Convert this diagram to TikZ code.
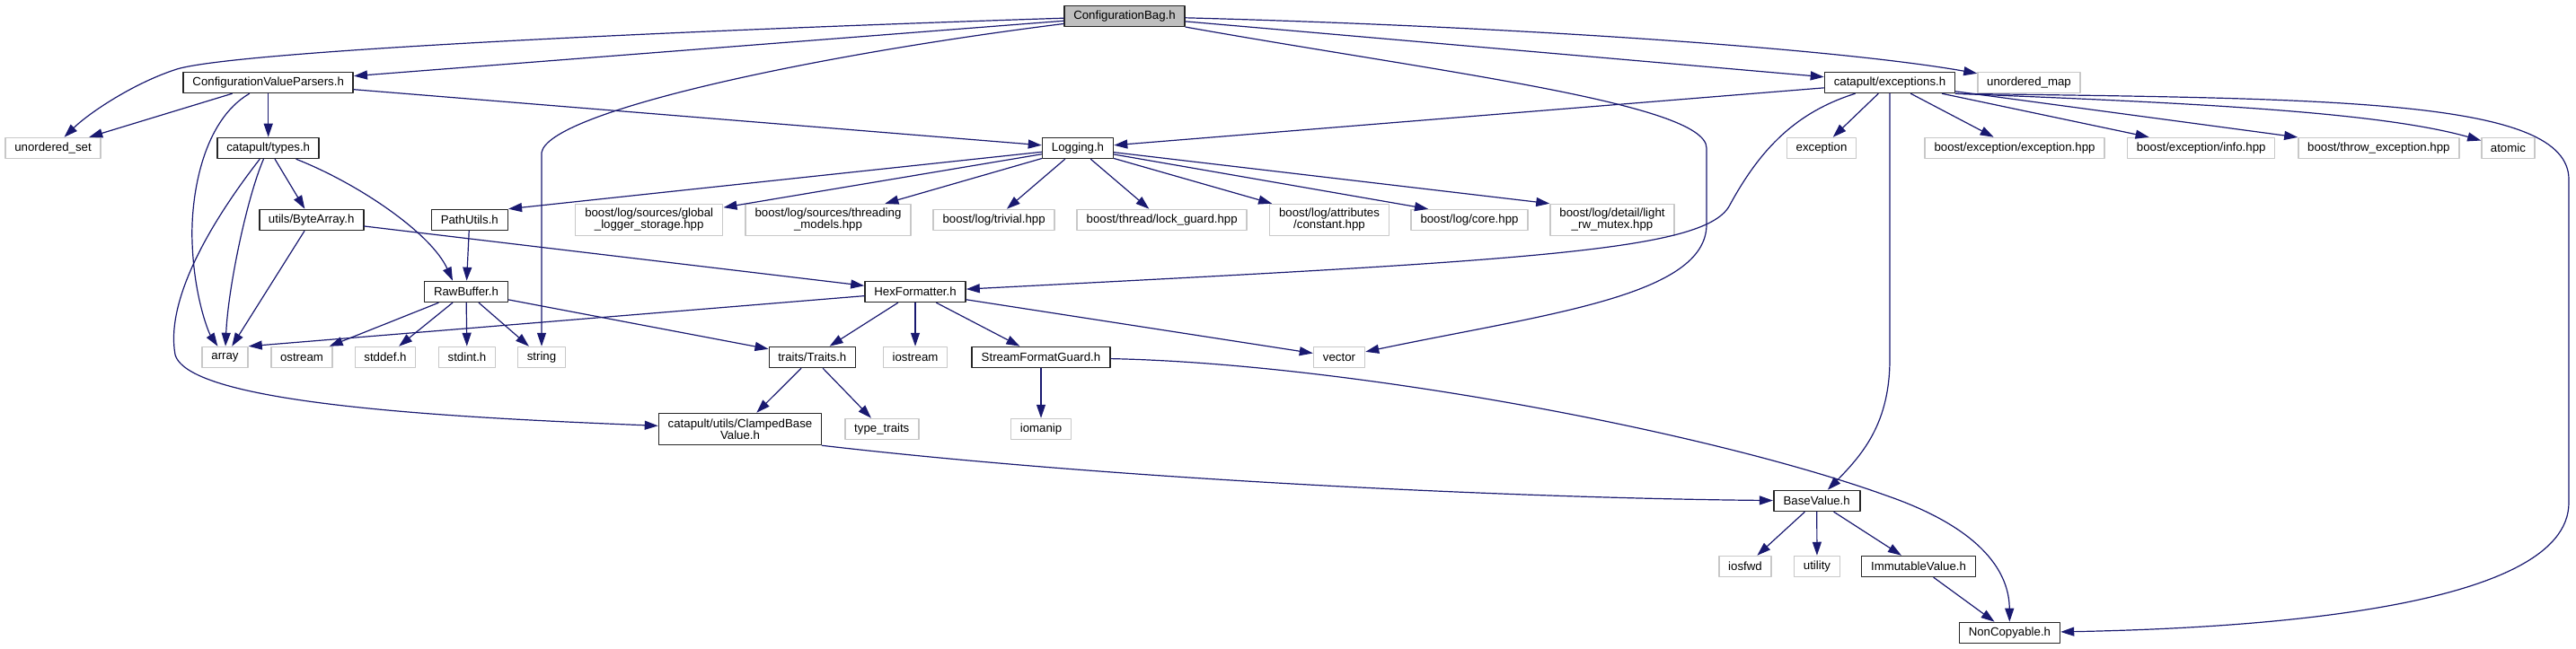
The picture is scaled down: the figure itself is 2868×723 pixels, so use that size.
\documentclass[tikz,border=0pt]{standalone}
\usepackage{fontspec}
\setmainfont{Liberation Sans}
\usetikzlibrary{arrows.meta}
\definecolor{edgeblue}{HTML}{191970}
\definecolor{sysgray}{HTML}{C8C8C8}
\definecolor{rootfill}{HTML}{BFBFBF}
\tikzset{
  every node/.style={font=\fontsize{13.25pt}{13pt}\selectfont, inner sep=0pt,
    minimum height=23pt, align=center},
  localbox/.style={draw=black!85, line width=1.6pt, fill=white},
  sysbox/.style={draw=sysgray, line width=1.5pt, fill=white},
  rootbox/.style={draw=black!85, line width=1.6pt, fill=rootfill},
  tall/.style={minimum height=35pt},
  incl/.style={draw=edgeblue, line width=1.2pt, -{Triangle[length=15pt,width=10pt]}}
}
\begin{document}
\begin{tikzpicture}[x=1pt,y=-1pt,line cap=round,line join=round]
  \useasboundingbox (0,0) rectangle (2868,723);
  % row 0
  \node[rootbox, minimum width=134pt] (cb) at (1252,18) {ConfigurationBag.h};
  % row 1
  \node[localbox, minimum width=189pt] (cvp) at (298.7,92) {ConfigurationValueParsers.h};
  \node[localbox, minimum width=145pt] (cex) at (2104,92) {catapult/exceptions.h};
  \node[sysbox, minimum width=114pt] (umap) at (2259,92) {unordered\_map};
  % row 2
  \node[sysbox, minimum width=106pt] (uset) at (59,165) {unordered\_set};
  \node[localbox, minimum width=113pt] (types) at (298.7,165) {catapult/types.h};
  \node[localbox, minimum width=79pt] (logging) at (1200,165) {Logging.h};
  \node[sysbox, minimum width=77pt] (exception) at (2028,165) {exception};
  \node[sysbox, minimum width=200pt] (bexc) at (2243,165) {boost/exception/exception.hpp};
  \node[sysbox, minimum width=164pt] (binfo) at (2450.7,165) {boost/exception/info.hpp};
  \node[sysbox, minimum width=179pt] (bthrow) at (2648.4,165) {boost/throw\_exception.hpp};
  \node[sysbox, minimum width=59pt] (atomic) at (2792.4,165) {atomic};
  % row 3
  \node[localbox, minimum width=116pt] (bytearr) at (346.7,245) {utils/ByteArray.h};
  \node[localbox, minimum width=85pt] (pathutils) at (522.8,245) {PathUtils.h};
  \node[sysbox, tall, minimum width=164pt] (glstorage) at (722.7,245) {boost/log/sources/global\\\_logger\_storage.hpp};
  \node[sysbox, tall, minimum width=184pt] (thmodels) at (922,245) {boost/log/sources/threading\\\_models.hpp};
  \node[sysbox, minimum width=135pt] (trivial) at (1106.6,245) {boost/log/trivial.hpp};
  \node[sysbox, minimum width=189pt] (lockguard) at (1293.7,245) {boost/thread/lock\_guard.hpp};
  \node[sysbox, tall, minimum width=133pt] (constant) at (1480,245) {boost/log/attributes\\/constant.hpp};
  \node[sysbox, minimum width=130pt] (core) at (1636,245) {boost/log/core.hpp};
  \node[sysbox, tall, minimum width=138pt] (rwmutex) at (1795,245) {boost/log/detail/light\\\_rw\_mutex.hpp};
  % row 4
  \node[localbox, minimum width=93pt] (rawbuf) at (519,325) {RawBuffer.h};
  \node[localbox, minimum width=112pt] (hexf) at (1019,325) {HexFormatter.h};
  % row 5
  \node[sysbox, minimum width=51pt] (array) at (250.5,398) {array};
  \node[sysbox, minimum width=68pt] (ostream) at (336,398) {ostream};
  \node[sysbox, minimum width=67pt] (stddef) at (429,398) {stddef.h};
  \node[sysbox, minimum width=63pt] (stdint) at (520,398) {stdint.h};
  \node[sysbox, minimum width=53pt] (string) at (603,398) {string};
  \node[localbox, minimum width=96pt] (traits) at (904.3,398) {traits/Traits.h};
  \node[sysbox, minimum width=71pt] (iostream) at (1019,398) {iostream};
  \node[localbox, minimum width=154pt] (sfg) at (1159,398) {StreamFormatGuard.h};
  \node[sysbox, minimum width=57pt] (vector) at (1491,398) {vector};
  % row 6
  \node[localbox, tall, minimum width=181pt] (clamped) at (824,478) {catapult/utils/ClampedBase\\Value.h};
  \node[sysbox, minimum width=82pt] (typetraits) at (981.8,478) {type\_traits};
  \node[sysbox, minimum width=67pt] (iomanip) at (1159,478) {iomanip};
  % rows 7-9
  \node[localbox, minimum width=96pt] (basevalue) at (2022.7,558) {BaseValue.h};
  \node[sysbox, minimum width=58pt] (iosfwd) at (1943,631) {iosfwd};
  \node[sysbox, minimum width=51pt] (utility) at (2023,631) {utility};
  \node[localbox, minimum width=127pt] (immut) at (2136,631) {ImmutableValue.h};
  \node[localbox, minimum width=112pt] (noncopy) at (2237.4,705) {NonCopyable.h};

  % ConfigurationBag.h
  \draw[incl] (cb) .. controls (700,36) and (260,58) .. (197,77)
    .. controls (150,92) and (100,125) .. (uset);
  \draw[incl] (cb) -- (cvp);
  \draw[incl] (cb) .. controls (900,62) and (610,125) .. (603,170) -- (string);
  \draw[incl] (cb) .. controls (1600,80) and (1900,115) .. (1900,165) -- (1900,250)
    .. controls (1900,330) and (1720,350) .. (vector);
  \draw[incl] (cb) -- (cex);
  \draw[incl] (cb) .. controls (1700,30) and (2050,55) .. (umap);
  % ConfigurationValueParsers.h
  \draw[incl] (cvp) -- (uset);
  \draw[incl] (cvp) -- (types);
  \draw[incl] (cvp) .. controls (225,135) and (212,220) .. (214,270)
    .. controls (216,330) and (232,370) .. (array);
  \draw[incl] (cvp) -- (logging);
  % catapult/types.h
  \draw[incl] (types) -- (bytearr);
  \draw[incl] (types) .. controls (400,205) and (480,260) .. ([xshift=-15pt]rawbuf.north);
  \draw[incl] (types) .. controls (275,220) and (254,320) .. (array);
  \draw[incl] (types) .. controls (225,260) and (185,340) .. (195,395)
    .. controls (210,450) and (500,465) .. (clamped);
  % utils/ByteArray.h, PathUtils.h
  \draw[incl] (bytearr) -- (array);
  \draw[incl] (bytearr) -- (hexf);
  \draw[incl] (pathutils) -- (rawbuf);
  % Logging.h
  \draw[incl] (logging) -- (pathutils.north east);
  \foreach \t in {glstorage,thmodels,trivial,lockguard,constant}
    \draw[incl] (logging) -- (\t);
  \draw[incl] (logging) -- ([xshift=-46pt]core.north);
  \draw[incl] (logging) -- (rwmutex.north west);
  % RawBuffer.h
  \foreach \t in {ostream,stddef,stdint,string,traits}
    \draw[incl] (rawbuf) -- (\t);
  % HexFormatter.h
  \draw[incl] (hexf) -- (array.north east);
  \foreach \t in {traits,iostream,sfg,vector}
    \draw[incl] (hexf) -- (\t);
  % catapult/exceptions.h
  \draw[incl] (cex) -- (logging);
  \draw[incl] (cex) .. controls (2000,125) and (1960,165) .. (1925,230)
    .. controls (1895,280) and (1700,290) .. (hexf);
  \foreach \t in {exception,bexc,binfo,bthrow}
    \draw[incl] (cex) -- (\t);
  \draw[incl] (cex.south east) .. controls (2450,115) and (2650,125) .. (atomic);
  \draw[incl] (cex.south east) .. controls (2600,110) and (2860,110) .. (2860,200)
    -- (2860,560) .. controls (2860,680) and (2500,700) .. (noncopy);
  \draw[incl] (cex) -- (2104,400) .. controls (2104,470) and (2075,505) .. (basevalue);
  % StreamFormatGuard.h
  \draw[incl] (sfg) -- (iomanip);
  \draw[incl] (sfg) .. controls (1500,405) and (1900,480) .. (2100,552)
    .. controls (2210,590) and (2237,640) .. (noncopy);
  % traits, clamped, base values
  \draw[incl] (traits) -- (clamped);
  \draw[incl] (traits) -- (typetraits);
  \draw[incl] (clamped.south east) .. controls (1250,535) and (1700,555) .. (basevalue);
  \foreach \t in {iosfwd,utility,immut}
    \draw[incl] (basevalue) -- (\t);
  \draw[incl] (immut) -- (noncopy);
\end{tikzpicture}
\end{document}
